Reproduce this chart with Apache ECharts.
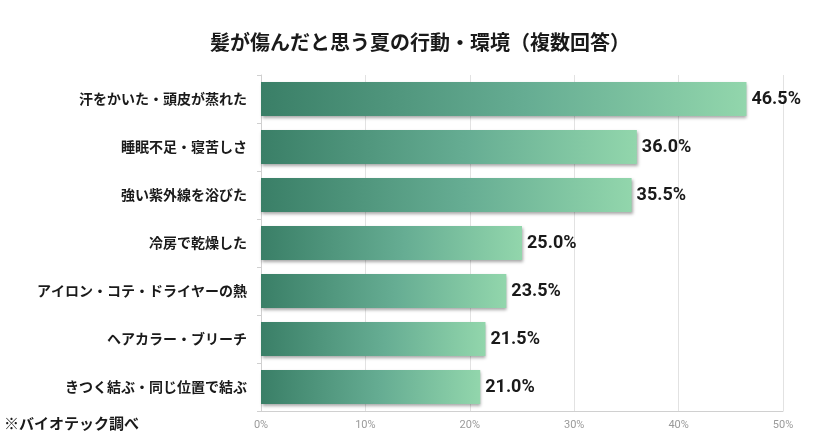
<!DOCTYPE html>
<html>
<head>
<meta charset="utf-8">
<script src="https://cdn.jsdelivr.net/npm/echarts@6/dist/echarts.min.js"></script>
<style>
  html, body { margin: 0; padding: 0; background: #fff; }
  #chart { width: 840px; height: 439px; }
</style>
</head>
<body>
<div id="chart"></div>
<script>
const categories = [
  "汗をかいた・頭皮が蒸れた",
  "睡眠不足・寝苦しさ",
  "強い紫外線を浴びた",
  "冷房で乾燥した",
  "アイロン・コテ・ドライヤーの熱",
  "ヘアカラー・ブリーチ",
  "きつく結ぶ・同じ位置で結ぶ",
];
const values = [46.5, 36.0, 35.5, 25.0, 23.5, 21.5, 21.0];
const titleText = "髪が傷んだと思う夏の行動・環境（複数回答）";
const sourceNote = "※バイオテック調べ";

const jpFont = '"Noto Sans CJK JP", "Noto Sans", sans-serif';
const chart = echarts.init(document.getElementById("chart"));

chart.setOption({
  animation: false,
  backgroundColor: "#fff",
  title: {
    text: titleText,
    left: "center",
    top: 27,
    textStyle: { fontFamily: jpFont, fontSize: 20, fontWeight: "bold", color: "#1a1a1a" },
  },
  grid: { left: 261, right: 57, top: 75, bottom: 28 },
  xAxis: {
    type: "value",
    min: 0,
    max: 50,
    interval: 10,
    axisLine: { show: true, lineStyle: { color: "#d0d0d0" } },
    axisTick: { show: false },
    axisLabel: { formatter: "{value}%", color: "#9a9a9a", fontSize: 11, margin: 9, fontFamily: "Roboto, sans-serif" },
    splitLine: { show: true, lineStyle: { color: "#e2e2e2" } },
  },
  yAxis: {
    type: "category",
    inverse: true,
    data: categories,
    axisLine: { show: true, lineStyle: { color: "#d0d0d0" } },
    axisTick: { show: true, length: 4, lineStyle: { color: "#d0d0d0" } },
    axisLabel: { color: "#1a1a1a", fontSize: 14, fontWeight: "bold", margin: 14, fontFamily: jpFont },
  },
  series: [
    {
      type: "bar",
      data: values,
      barWidth: 34,
      itemStyle: {
        color: new echarts.graphic.LinearGradient(0, 0, 1, 0, [
          { offset: 0, color: "#3a7f67" },
          { offset: 0.55, color: "#66ad93" },
          { offset: 1, color: "#92d6ac" },
        ]),
        shadowColor: "rgba(0,0,0,0.35)",
        shadowBlur: 3,
        shadowOffsetX: 1,
        shadowOffsetY: 2,
      },
      label: {
        show: true,
        position: "right",
        distance: 5,
        formatter: (p) => p.value.toFixed(1) + "%",
        color: "#1a1a1a",
        fontSize: 18,
        fontWeight: "bold",
        fontFamily: "Roboto, sans-serif",
      },
    },
  ],
  graphic: [
    {
      type: "text",
      left: 4,
      top: 416,
      style: { text: sourceNote, fontSize: 15, fontWeight: "bold", fill: "#1a1a1a", fontFamily: jpFont },
    },
  ],
});
</script>
</body>
</html>
